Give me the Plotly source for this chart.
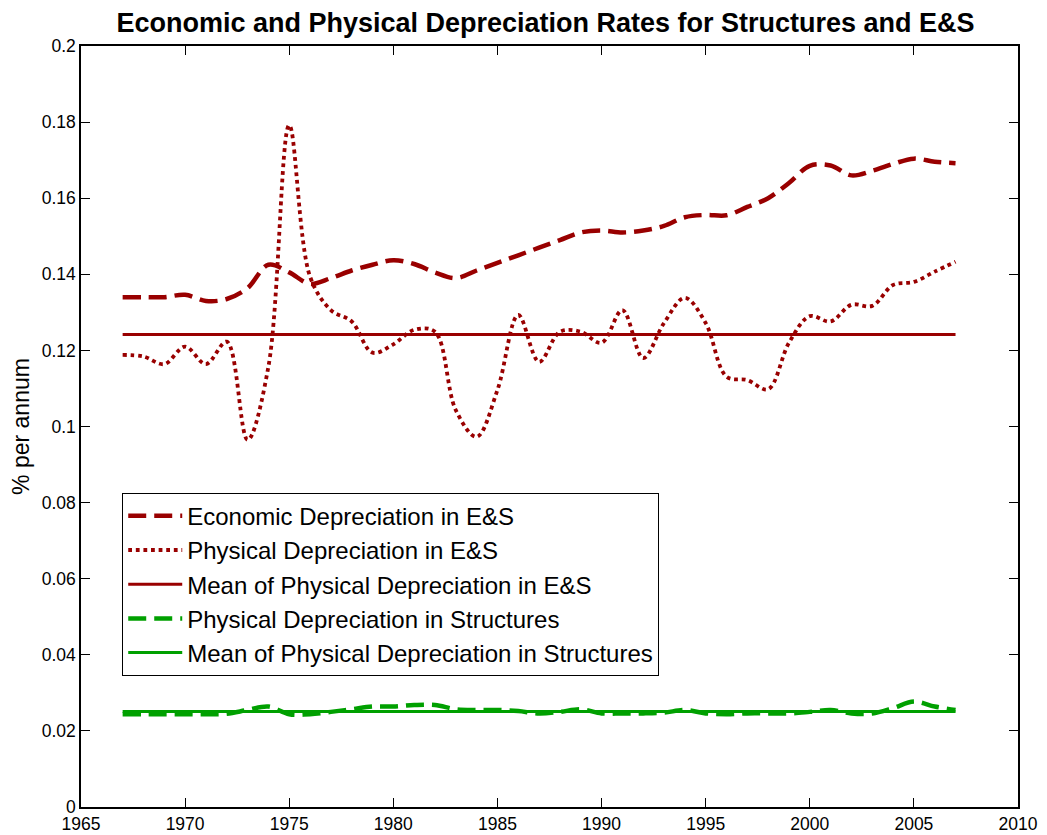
import plotly.graph_objects as go

years = list(range(1967, 2008))

econ_es = [0.1340, 0.1340, 0.1340, 0.1346, 0.1330, 0.1335, 0.1364, 0.1425, 0.1405, 0.1375,
           0.1390, 0.1410, 0.1425, 0.1437, 0.1427, 0.1405, 0.1390, 0.1410, 0.1430, 0.1450,
           0.1470, 0.1490, 0.1510, 0.1515, 0.1510, 0.1515, 0.1527, 0.1550, 0.1556, 0.1555,
           0.1577, 0.1600, 0.1640, 0.1685, 0.1686, 0.1660, 0.1672, 0.1690, 0.1704, 0.1696, 0.1692]

phys_es = [0.1188, 0.1184, 0.1164, 0.1210, 0.1164, 0.1223, 0.0965, 0.1157, 0.1792, 0.1394,
           0.1306, 0.1276, 0.1194, 0.1216, 0.1254, 0.1249, 0.1043, 0.0973, 0.1096, 0.1293,
           0.1170, 0.1249, 0.1249, 0.1220, 0.1306, 0.1180, 0.1272, 0.1338, 0.1272, 0.1131,
           0.1122, 0.1098, 0.1220, 0.1290, 0.1276, 0.1320, 0.1317, 0.1372, 0.1380, 0.1407, 0.1433]

mean_es = 0.1242

phys_str = [0.0244, 0.0244, 0.0244, 0.0244, 0.0244, 0.0245, 0.0255, 0.0264, 0.0244, 0.0244,
            0.0250, 0.0257, 0.0264, 0.0264, 0.0268, 0.0268, 0.0257, 0.0255, 0.0255, 0.0252,
            0.0246, 0.0250, 0.0257, 0.0246, 0.0246, 0.0246, 0.0248, 0.0255, 0.0246, 0.0244,
            0.0246, 0.0246, 0.0246, 0.0250, 0.0255, 0.0246, 0.0246, 0.0260, 0.0277, 0.0264, 0.0255]

mean_str = 0.0251

RED = "#990000"
GREEN = "#00a000"
FONT = "Liberation Sans, Arial, Helvetica, sans-serif"

fig = go.Figure()
fig.add_trace(go.Scatter(x=years, y=econ_es, mode="lines", name="Economic Depreciation in E&S",
                         legendgroup="a",
                         line=dict(color=RED, width=4.5, dash="18px,8px", shape="spline", smoothing=1)))
fig.add_trace(go.Scatter(x=years, y=phys_es, mode="lines", name="Physical Depreciation in E&S",
                         legendgroup="b",
                         line=dict(color=RED, width=3.8, dash="3.8px,3.8px", shape="spline", smoothing=1)))
fig.add_trace(go.Scatter(x=[years[0], years[-1]], y=[mean_es, mean_es], mode="lines",
                         name="Mean of Physical Depreciation in E&S", legendgroup="c",
                         line=dict(color=RED, width=3)))
fig.add_trace(go.Scatter(x=years, y=phys_str, mode="lines", name="Physical Depreciation in Structures",
                         legendgroup="d",
                         line=dict(color=GREEN, width=4.5, dash="18px,8px", shape="spline", smoothing=1)))
fig.add_trace(go.Scatter(x=[years[0], years[-1]], y=[mean_str, mean_str], mode="lines",
                         name="Mean of Physical Depreciation in Structures", legendgroup="e",
                         line=dict(color=GREEN, width=3)))

axis_common = dict(showline=True, linecolor="black", linewidth=1.5, mirror="ticks",
                   ticks="inside", ticklen=9, tickwidth=1, tickcolor="black",
                   showgrid=False, zeroline=False, automargin=False,
                   tickfont=dict(family=FONT, size=17.5, color="black"))

# page body has an 8px margin, so the figure is sized to fill the 1047x835 window from (8, 8)
fig.update_layout(
    width=1039, height=827,
    margin=dict(l=73, r=29, t=38, b=28),
    paper_bgcolor="white", plot_bgcolor="white",
    title=dict(text="<b>Economic and Physical Depreciation Rates for Structures and E&S</b>",
               x=0.5 + 18.0 / 1039, xanchor="center", y=1 - 15.0 / 827, yanchor="middle", yref="container",
               font=dict(family=FONT, size=27, color="black")),
    xaxis=dict(range=[1965, 2010], dtick=5, tick0=1965, **axis_common),
    yaxis=dict(range=[0, 0.2], dtick=0.02, tick0=0,
               title=dict(text="% per annum", standoff=10,
                          font=dict(family=FONT, size=23, color="black")),
               **axis_common),
    legend=dict(x=0.044, y=0.413, xanchor="left", yanchor="top",
                bordercolor="black", borderwidth=1, bgcolor="white",
                traceorder="grouped", tracegroupgap=0, itemwidth=54,
                font=dict(family=FONT, size=24, color="black")),
    showlegend=True,
)

fig.write_html("out.html")
